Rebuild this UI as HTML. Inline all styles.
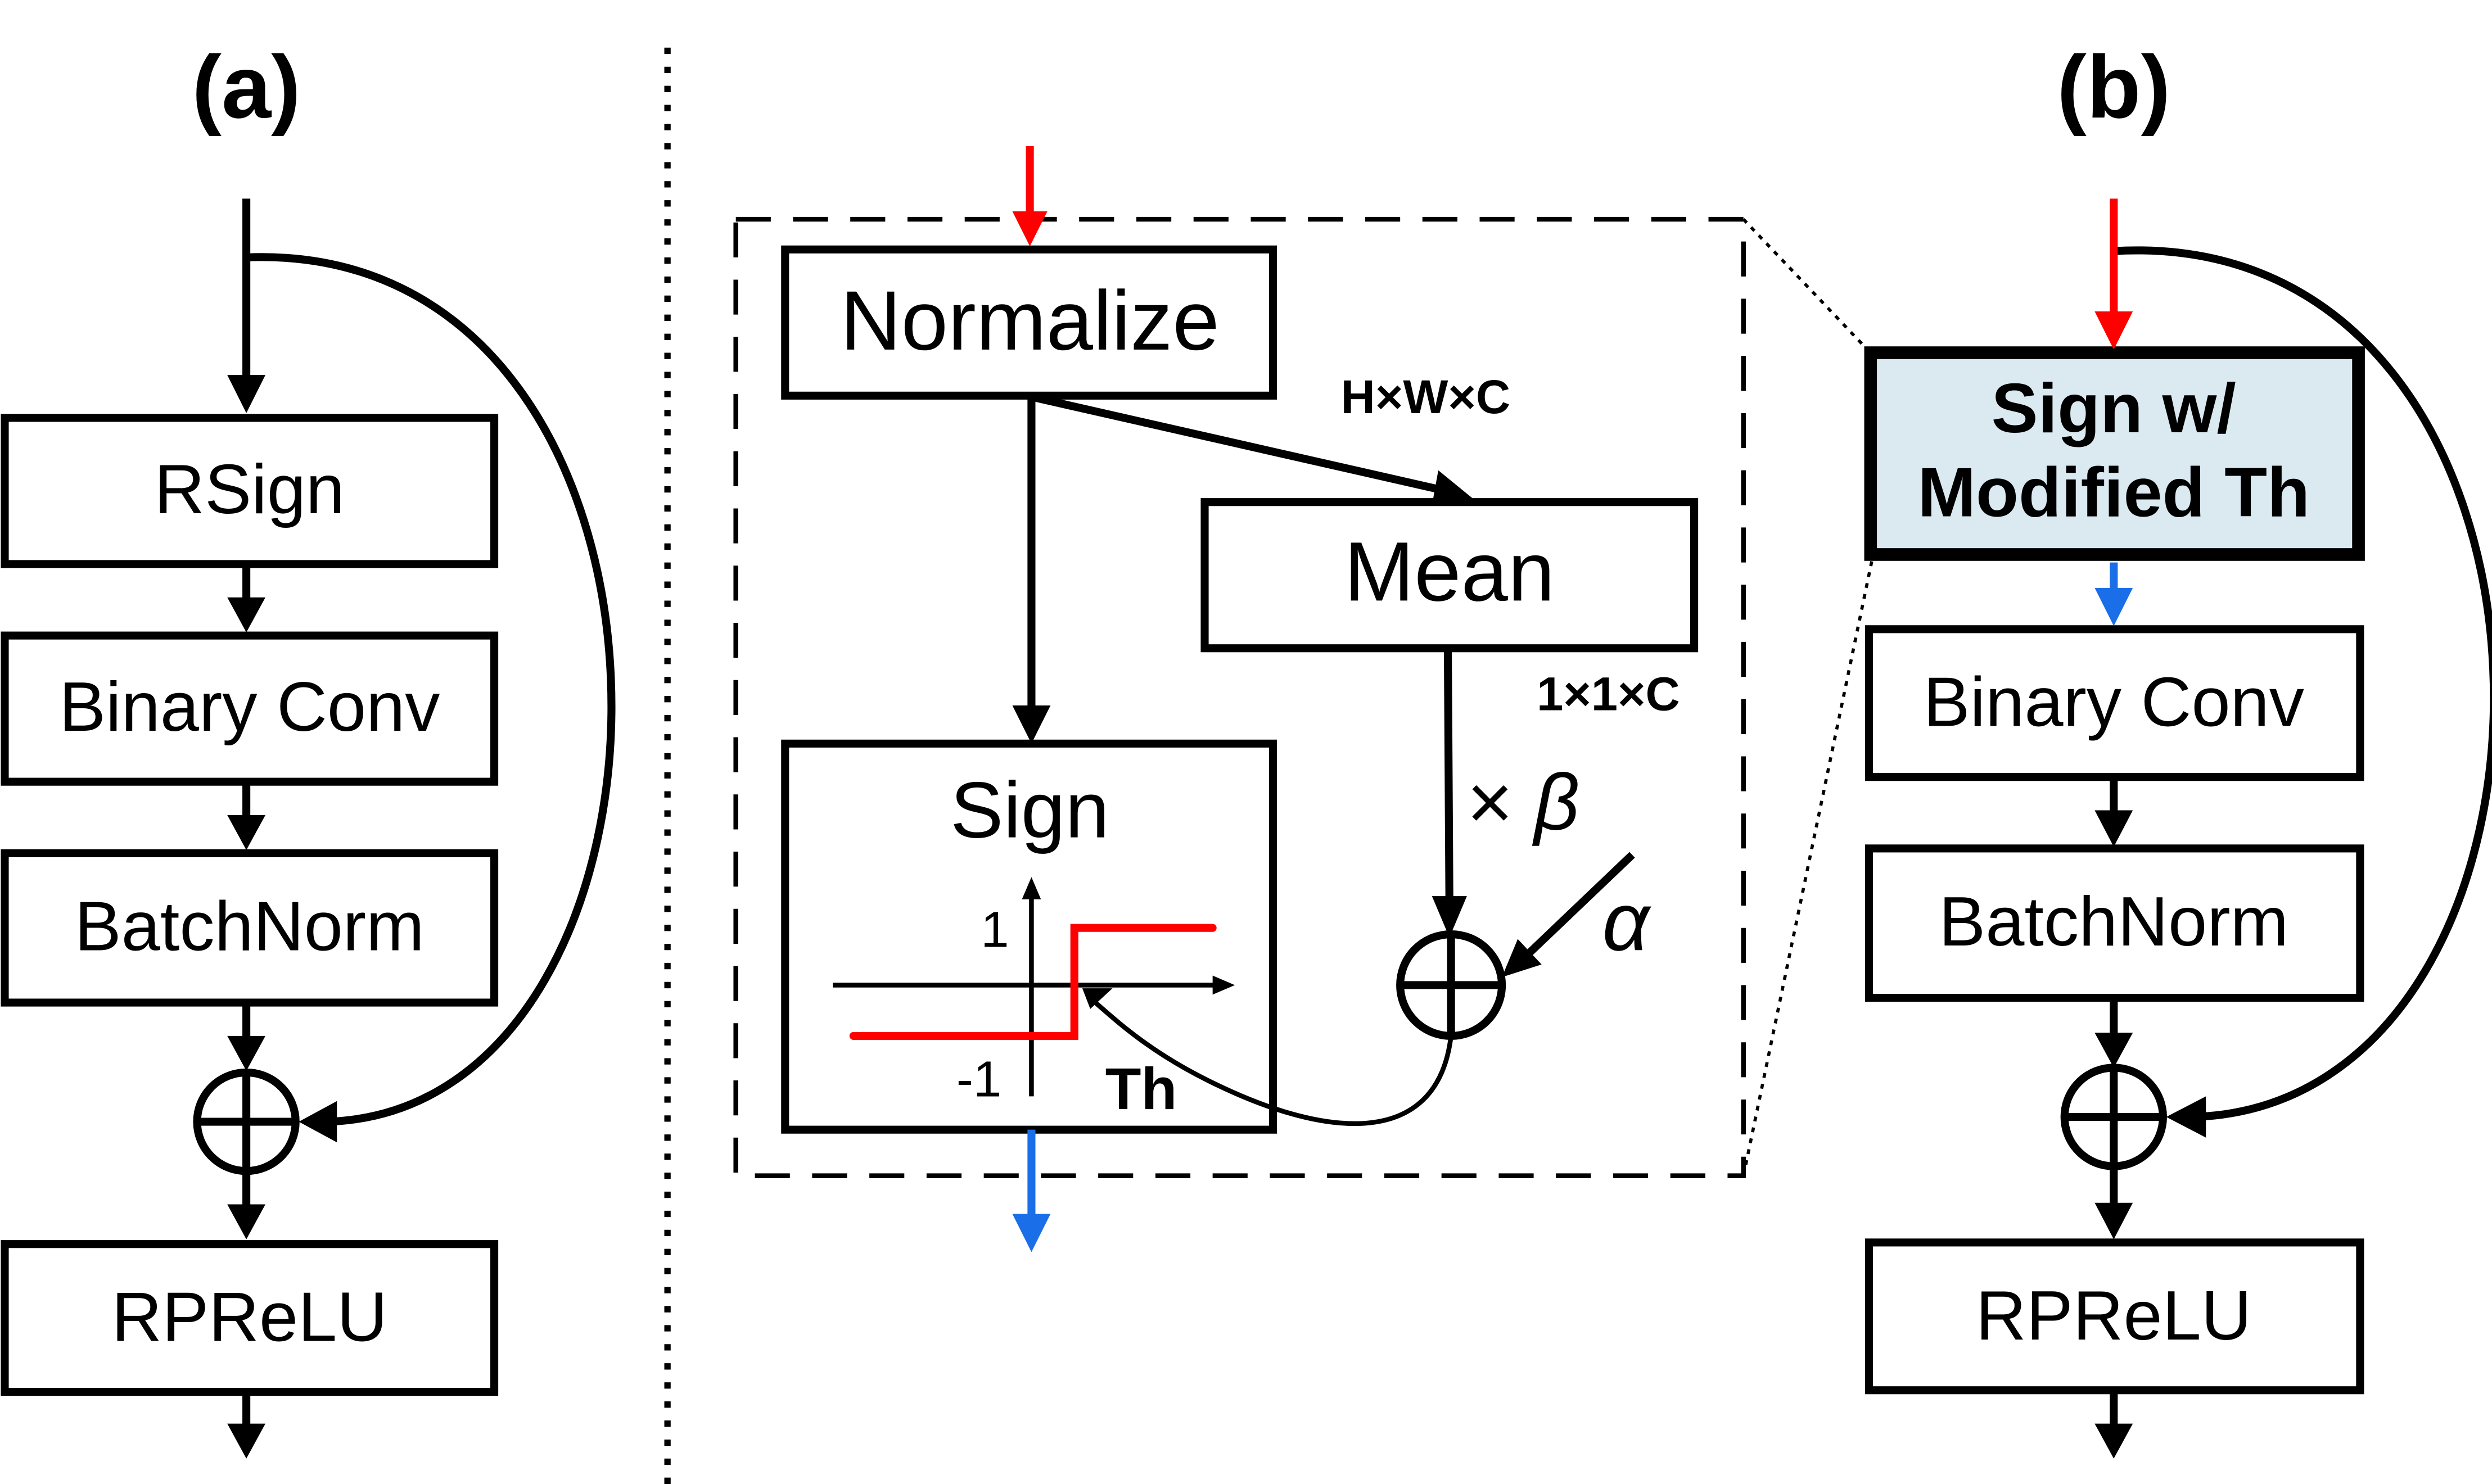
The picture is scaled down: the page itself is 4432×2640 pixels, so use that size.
<!DOCTYPE html>
<html><head><meta charset="utf-8"><style>
html,body{margin:0;padding:0;background:#fff;}
svg{display:block;}
text{font-family:"Liberation Sans",sans-serif;}
</style></head><body>
<svg width="4432" height="2640" viewBox="0 0 1568 934" xmlns="http://www.w3.org/2000/svg">
<g fill="none" stroke="#000" stroke-width="5">
<line x1="155" y1="125" x2="155" y2="240"/>
<rect x="3" y="263" width="308" height="92"/>
<line x1="155" y1="355" x2="155" y2="380"/>
<rect x="3" y="400" width="308" height="92"/>
<line x1="155" y1="492" x2="155" y2="516"/>
<rect x="3" y="537" width="308" height="94"/>
<line x1="155" y1="631" x2="155" y2="655"/>
<circle cx="155" cy="706" r="31"/>
<line x1="124" y1="706" x2="186" y2="706"/><line x1="155" y1="675" x2="155" y2="737"/>
<line x1="155" y1="737" x2="155" y2="762"/>
<rect x="3" y="783" width="308" height="93"/>
<line x1="155" y1="876" x2="155" y2="900"/>
<path d="M155,162 C455,150 450,700 205,706"/>
<line x1="420" y1="30" x2="420" y2="934" stroke-width="4" stroke-dasharray="4,8"/>
<rect x="463" y="138" width="634" height="602" stroke-width="3" stroke-dasharray="22,14"/>
<rect x="494" y="157" width="307" height="92"/>
<line x1="650" y1="250" x2="910" y2="309"/>
<rect x="758" y="316" width="308" height="92"/>
<line x1="911" y1="408" x2="912" y2="570"/>
<circle cx="913" cy="620" r="32"/>
<line x1="881" y1="620" x2="945" y2="620"/><line x1="913" y1="588" x2="913" y2="652"/>
<line x1="1027" y1="538" x2="962" y2="600"/>
<line x1="649" y1="250" x2="649" y2="448"/>
<rect x="494" y="468" width="307" height="243"/>
<line x1="649" y1="690" x2="649" y2="556" stroke-width="3"/>
<line x1="524" y1="620" x2="768" y2="620" stroke-width="3"/>
<path d="M913,652 C905,720 840,720 760,680 C720,660 700,640 688,630" stroke-width="3"/>
<line x1="1097" y1="138" x2="1175" y2="220" stroke-width="2" stroke-dasharray="3,4"/>
<line x1="1097" y1="740" x2="1178" y2="352" stroke-width="2" stroke-dasharray="3,4"/>
<rect x="1177" y="222" width="307" height="127" fill="#dbe9f1" stroke-width="8"/>
<rect x="1176" y="396" width="309" height="93"/>
<line x1="1330" y1="489" x2="1330" y2="515"/>
<rect x="1176" y="534" width="309" height="94"/>
<line x1="1330" y1="628" x2="1330" y2="655"/>
<circle cx="1330" cy="703" r="31"/>
<line x1="1299" y1="703" x2="1361" y2="703"/><line x1="1330" y1="672" x2="1330" y2="734"/>
<line x1="1330" y1="734" x2="1330" y2="760"/>
<rect x="1176" y="782" width="309" height="93"/>
<line x1="1330" y1="875" x2="1330" y2="900"/>
<path d="M1330,158 C1640,140 1640,695 1380,703"/>
</g>
<g fill="#000">
<path d="M143,236 L167,236 L155,260 z"/>
<path d="M143,376 L167,376 L155,398 z"/>
<path d="M143,513 L167,513 L155,535 z"/>
<path d="M143,652 L167,652 L155,674 z"/>
<path d="M143,758 L167,758 L155,780 z"/>
<path d="M143,896 L167,896 L155,918 z"/>
<path d="M212,693 L212,719 L188,706 z"/>
<path d="M905,296 L927,314 L901,318 z"/>
<path d="M901,564 L923,564 L912,590 z"/>
<path d="M945,615 L970,607 L955,591 z"/>
<path d="M637,444 L661,444 L649,468 z"/>
<path d="M643,566 L655,566 L649,552 z"/>
<path d="M763,614 L763,626 L777,620 z"/>
<path d="M681,622 L700,622 L686,635 z"/>
<path d="M1318,510 L1342,510 L1330,533 z"/>
<path d="M1318,650 L1342,650 L1330,672 z"/>
<path d="M1318,757 L1342,757 L1330,780 z"/>
<path d="M1318,896 L1342,896 L1330,918 z"/>
<path d="M1388,690 L1388,716 L1363,703 z"/>
</g>
<g stroke-width="5">
<line x1="648" y1="92" x2="648" y2="135" stroke="#f00"/>
<path d="M637,133 L659,133 L648,155 z" fill="#f00"/>
<line x1="1330" y1="125" x2="1330" y2="198" stroke="#f00"/>
<path d="M1318,196 L1342,196 L1330,220 z" fill="#f00"/>
<line x1="649" y1="711" x2="649" y2="768" stroke="#1a6fe8"/>
<path d="M637,764 L661,764 L649,788 z" fill="#1a6fe8"/>
<line x1="1330" y1="354" x2="1330" y2="375" stroke="#1a6fe8"/>
<path d="M1318,370 L1342,370 L1330,394 z" fill="#1a6fe8"/>
<path d="M537,652 L676,652 L676,584 L763,584" fill="none" stroke="#f00" stroke-width="5" stroke-linecap="round"/>
</g>
<g text-anchor="middle" fill="#000">
<text x="155" y="74" font-size="56" font-weight="bold">(a)</text>
<text x="1330" y="74" font-size="56" font-weight="bold">(b)</text>
<text x="157" y="323" font-size="44">RSign</text>
<text x="157" y="460" font-size="44">Binary Conv</text>
<text x="157" y="598" font-size="44">BatchNorm</text>
<text x="157" y="844" font-size="44">RPReLU</text>
<text x="648" y="220" font-size="53">Normalize</text>
<text x="912" y="378" font-size="53">Mean</text>
<text x="897" y="260" font-size="30" font-weight="bold">H×W×C</text>
<text x="1012" y="447" font-size="30" font-weight="bold">1×1×C</text>
<text x="648" y="527" font-size="50">Sign</text>
<text x="626" y="596" font-size="32">1</text>
<text x="616" y="690" font-size="32">-1</text>
<text x="718" y="698" font-size="37" font-weight="bold">Th</text>
<text x="958" y="522" font-size="50" font-family="Liberation Serif" font-style="italic">× β</text>
<text x="1023" y="598" font-size="52" font-family="Liberation Serif" font-style="italic">α</text>
<text x="1330" y="272" font-size="44" font-weight="bold">Sign w/</text>
<text x="1330" y="325" font-size="44" font-weight="bold">Modified Th</text>
<text x="1330" y="457" font-size="44">Binary Conv</text>
<text x="1330" y="595" font-size="44">BatchNorm</text>
<text x="1330" y="843" font-size="44">RPReLU</text>
</g>
</svg>
</body></html>
